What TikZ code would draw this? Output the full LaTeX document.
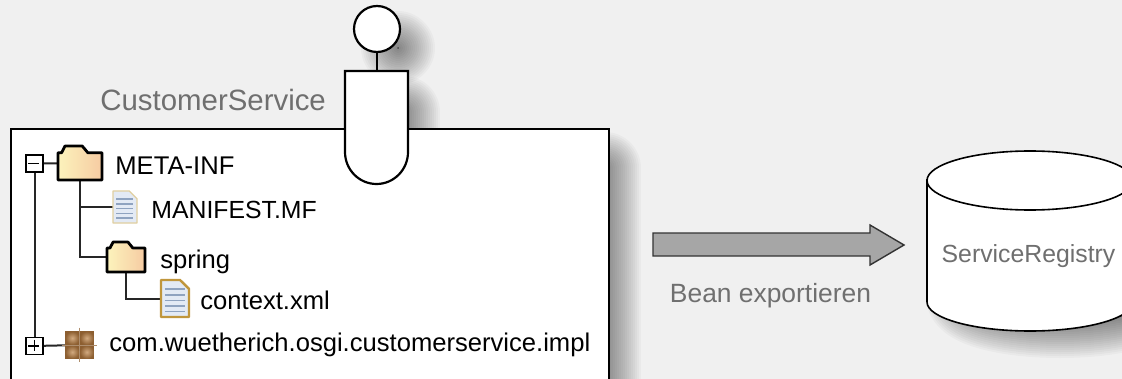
\documentclass[tikz,border=0pt]{standalone}
\usepackage{fontspec}
\setmainfont{Liberation Sans}
\usetikzlibrary{positioning,shadings}

\definecolor{paneback}{HTML}{F0F0F0}
\definecolor{captiongray}{HTML}{6F6F6F}
\definecolor{arrowgray}{HTML}{A6A6A6}
\definecolor{folderlight}{HTML}{FCF3BC}
\definecolor{folderdark}{HTML}{F6CBA2}
\definecolor{docpale}{HTML}{E3EAF5}
\definecolor{doclines}{HTML}{8FA3C0}
\definecolor{docedge}{HTML}{E0CFA0}
\definecolor{docgold}{HTML}{C0963C}
\definecolor{cratedark}{HTML}{8C5E30}
\definecolor{cratelight}{HTML}{D2AA80}

\tikzset{
    softshade/.style={draw=black,fill=black,opacity=0.027,line join=round},
    outline/.style={draw=black,line width=1.1pt},
    treeline/.style={draw=black!85,line width=1pt},
    expander/.style={draw=black,line width=0.8pt,fill=white,minimum size=8.5pt,inner sep=0pt},
    iconbox/.style={inner sep=0pt,outer sep=0pt},
    treelabel/.style={inner sep=0pt,text height=9.2pt,text depth=2.7pt,font=\fontsize{12.8}{15}\selectfont},
    caption/.style={inner sep=0pt,text=captiongray},
    foldericon/.pic={
        \draw[line width=1.4pt,draw=black,line join=round,left color=folderlight,right color=folderdark]
            (0,0.2) -- (0.08,0.2) -- (0.16,0) -- (0.55,0) -- (0.68,0.2) -- (1,0.2) -- (1,1) -- (0,1) -- cycle;
    },
    docicon/.pic={
        \draw[pic actions,fill=docpale,line join=round] (0,0) -- (0.68,0) -- (1,0.24) -- (1,1) -- (0,1) -- cycle;
        \foreach \y in {0.25,0.4,0.55,0.7,0.85} {
            \draw[doclines,line width=0.8pt] (0.14,\y) -- (0.84,\y);
        }
    },
    crateicon/.pic={
        \fill[cratedark] (0,0) rectangle (1,1);
        \foreach \x in {0.25,0.75} {
            \foreach \y in {0.25,0.75} {
                \shade[inner color=cratelight,outer color=cratedark] (\x-0.24,\y-0.24) rectangle (\x+0.24,\y+0.24);
            }
        }
        \draw[cratedark!70,line width=0.3pt] (0.5,-0.12) -- (0.5,1.12) (-0.12,0.5) -- (1.12,0.5);
    }
}

\newcommand{\softshadow}[1]{
    \foreach \w in {4,8,...,72} {
        \draw[softshade,line width=\w*0.5pt] #1;
    }
}

\begin{document}
\begin{tikzpicture}[x=0.5pt,y=-0.5pt]
    \useasboundingbox (0,0) rectangle (1122,379);
    \clip (0,0) rectangle (1122,379);
    \fill[paneback] (0,0) rectangle (1122,379);

    % shadows
    \softshadow{(398,48) circle[radius=1]}
    \softshadow{(380,112) rectangle (404,170)}
    \softshadow{(590,168) rectangle (605,420)}
    \softshadow{(1060,296) ellipse[x radius=98,y radius=26]}

    % jar
    \draw[outline,fill=white] (11,129) rectangle (609,400);

    % tree
    \node[expander] (minus) at (34.5,163.5) {};
    \node[expander] (plus) at (34.5,346) {};
    \node[iconbox,minimum width=22pt,minimum height=17pt] (metafolder) at (80,163) {};
    \node[iconbox,minimum width=12pt,minimum height=16pt] (manifest) at (125,207) {};
    \node[iconbox,minimum width=19pt,minimum height=15pt] (springfolder) at (126,257) {};
    \node[iconbox,minimum width=14pt,minimum height=18.5pt] (contextdoc) at (175,298.5) {};
    \node[iconbox,minimum width=14.5pt,minimum height=14pt] (crate) at (79.5,345) {};

    \draw[treeline] (minus) -- (plus);
    \draw[treeline] (minus) -- (metafolder);
    \draw[treeline] (plus) -- (crate);
    \draw[treeline] (metafolder.south) |- (manifest.west);
    \draw[treeline] (metafolder.south) |- (springfolder.west);
    \draw[treeline] (springfolder.south) |- (contextdoc.west);

    \draw[line width=0.6pt] (minus.west) ++(3,0) -- ++(11,0);
    \draw[line width=0.6pt] (plus.west) ++(3,0) -- ++(11,0) (plus.north) ++(0,3) -- ++(0,11);

    \pic[xscale=44,yscale=34] at (metafolder.north west) {foldericon};
    \pic[xscale=38,yscale=30] at (springfolder.north west) {foldericon};
    \pic[xscale=24,yscale=32,draw=docedge,line width=0.6pt] at (manifest.north west) {docicon};
    \pic[xscale=28,yscale=37,draw=docgold,line width=1.2pt] at (contextdoc.north west) {docicon};
    \pic[xscale=29,yscale=28] at (crate.north west) {crateicon};

    \node[treelabel,right=6.5pt of metafolder,yshift=-2.75pt] (metalabel) {META-INF};
    \node[treelabel,right=7pt of manifest,yshift=-2.25pt,font=\fontsize{12.4}{15}\selectfont] (manifestlabel) {MANIFEST.MF};
    \node[treelabel,right=7.5pt of springfolder,yshift=-2.25pt] (springlabel) {spring};
    \node[treelabel,right=5.5pt of contextdoc,yshift=-2pt] (contextlabel) {context.xml};
    \node[treelabel,right=7.5pt of crate] (cratelabel) {com.wuetherich.osgi.customerservice.impl};

    \node[caption,anchor=west,font=\fontsize{14.7}{17}\selectfont] (bundlename) at (100,100) {CustomerService};

    % service connector
    \node[circle,draw=black,line width=1.1pt,fill=white,minimum size=23pt,inner sep=0pt] (socket) at (377,29) {};
    \coordinate (stemfoot) at (377,71);
    \draw[outline,fill=white] (345,71) -- (345,152) arc[start angle=180,end angle=0,x radius=31.5,y radius=32] -- (408,71) -- cycle;
    \draw[outline] (socket) -- (stemfoot);

    % export arrow
    \draw[draw=black!80,line width=0.7pt,fill=arrowgray,line join=miter] (653,233) -- (870,233) -- (870,225) -- (904,245) -- (870,265) -- (870,256) -- (653,256) -- cycle;
    \node[caption,font=\fontsize{13.2}{16}\selectfont] (exportlabel) at (770.5,296) {Bean exportieren};

    % registry
    \draw[draw=black,line width=0.8pt,fill=white] (927,180) -- (927,302) arc[start angle=180,end angle=0,x radius=103,y radius=29] -- (1133,180) -- cycle;
    \draw[draw=black,line width=0.8pt,fill=white] (1030,180.5) ellipse[x radius=103,y radius=29.5];
    \node[caption,font=\fontsize{12.4}{15}\selectfont] (registry) at (1028.5,256) {ServiceRegistry};
\end{tikzpicture}
\end{document}
